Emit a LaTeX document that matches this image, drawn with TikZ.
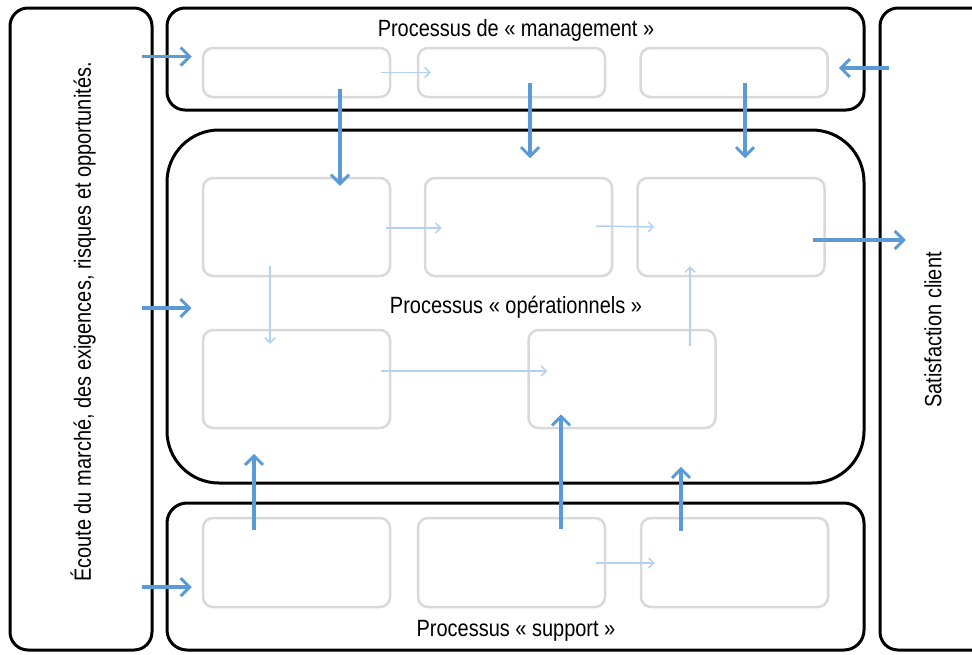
\documentclass[tikz,border=0pt]{standalone}
\usepackage{fontspec}
\setmainfont{Liberation Sans}[FakeStretch=0.85]
\usepackage{xcolor}
\usetikzlibrary{arrows.meta}

\definecolor{darkblue}{HTML}{5B9BD5}
\definecolor{lightblue}{HTML}{B4D2F0}
\definecolor{boxgray}{HTML}{D9D9D9}

\tikzset{
    frame/.style={draw=black, line width=3pt, inner sep=0pt},
    procbox/.style={draw=boxgray, line width=2.5pt, rounded corners=10pt, minimum width=187pt, inner sep=0pt},
    bigarrow/.style={draw=darkblue, line width=3.5pt, -{Straight Barb[length=9pt, width=18pt, line width=3pt]}},
    smallarrow/.style={draw=lightblue, line width=1.5pt, -{Straight Barb[length=5pt, width=10pt, line width=1.5pt]}},
    label/.style={font=\fontsize{23.5}{26}\selectfont, inner sep=0pt}
}

\begin{document}
\begin{tikzpicture}[x=1pt, y=-1pt]
    \useasboundingbox (0, 0) rectangle (972, 654);
    \clip (0, 0) rectangle (972, 654);

    % Outer frames
    \node[frame, rounded corners=18pt, minimum width=142pt, minimum height=642pt] (L) at (81, 329) {}; % market
    \node[frame, rounded corners=18pt, minimum width=160pt, minimum height=642pt] (R) at (960, 329) {}; % customer
    \node[frame, rounded corners=18pt, minimum width=697pt, minimum height=102pt] (M) at (515.5, 59) {}; % management
    \node[frame, rounded corners=52pt, minimum width=697pt, minimum height=353pt] (O) at (515.5, 306.5) {}; % operations
    \node[frame, rounded corners=20pt, minimum width=697pt, minimum height=147pt] (S) at (515.5, 576.5) {}; % support

    % Labels
    \node[label] (mlabel) at (516, 30) {Processus de « management »};
    \node[label] (olabel) at (516, 307) {Processus « opérationnels »};
    \node[label] (slabel) at (516, 631) {Processus « support »};
    \node[label, rotate=90] (llabel) at (83, 322) {Écoute du marché, des exigences, risques et opportunités.};
    \node[label, rotate=90] (rlabel) at (933, 330) {Satisfaction client};

    % Management processes
    \node[procbox, minimum height=49pt] (m1) at (296.5, 72.5) {};
    \node[procbox, minimum height=49pt] (m2) at (511.5, 72.5) {};
    \node[procbox, minimum height=49pt] (m3) at (734, 72.5) {};

    % Operational processes
    \node[procbox, minimum height=98pt] (A) at (296.5, 227) {};
    \node[procbox, minimum height=98pt] (B) at (518.5, 227) {};
    \node[procbox, minimum height=98pt] (C) at (731, 227) {};
    \node[procbox, minimum height=98pt] (D) at (296.5, 379) {};
    \node[procbox, minimum height=98pt] (E) at (622, 379) {};

    % Support processes
    \node[procbox, minimum height=89pt] (F) at (296.5, 562.5) {};
    \node[procbox, minimum height=89pt] (G) at (511.5, 562.5) {};
    \node[procbox, minimum height=89pt] (H) at (734.5, 562.5) {};

    % Internal flows
    \draw[smallarrow] ([xshift=-10pt]m1.east) -- ([xshift=14pt]m2.west);
    \draw[smallarrow] ([xshift=-5pt,yshift=-1pt]A.east) -- ([xshift=18pt,yshift=-1pt]B.west);
    \draw[smallarrow] ([xshift=-17pt,yshift=1pt]B.east) -- ([xshift=18pt]C.west);
    \draw[smallarrow] ([xshift=-26.5pt,yshift=11pt]A.south) -- ([xshift=-26.5pt,yshift=-15pt]D.north);
    \draw[smallarrow] ([xshift=-10pt,yshift=8pt]D.east) -- ([xshift=20pt,yshift=8pt]E.west);
    \draw[smallarrow] ([xshift=68pt,yshift=-17pt]E.north) -- ([xshift=-41pt,yshift=11pt]C.south);
    \draw[smallarrow] ([xshift=-10pt,yshift=-0.5pt]G.east) -- ([xshift=15pt,yshift=-0.5pt]H.west);

    % Inputs and outputs
    \draw[bigarrow] ([xshift=-60pt,yshift=16pt]m1.west) -- ([xshift=-10pt,yshift=16pt]m1.west);
    \draw[bigarrow] ([xshift=-24pt,yshift=-1.5pt]O.west) -- ([xshift=26pt,yshift=-1.5pt]O.west);
    \draw[bigarrow] ([xshift=-60pt,yshift=-24.5pt]F.west) -- ([xshift=-10pt,yshift=-24.5pt]F.west);
    \draw[bigarrow] ([xshift=60pt,yshift=4.5pt]m3.east) -- ([xshift=10pt,yshift=4.5pt]m3.east);
    \draw[bigarrow] ([xshift=-13pt,yshift=-13pt]C.east) -- ([xshift=80pt,yshift=-13pt]C.east);

    % Management to operations
    \draw[bigarrow] ([xshift=43.5pt,yshift=9pt]m1.south) -- ([xshift=43.5pt,yshift=-9pt]A.north);
    \draw[bigarrow] ([xshift=18.5pt,yshift=15pt]m2.south) -- ([xshift=18.5pt,yshift=-60pt]m2.south);
    \draw[bigarrow] ([xshift=11pt,yshift=15pt]m3.south) -- ([xshift=11pt,yshift=-60pt]m3.south);

    % Support to operations
    \draw[bigarrow] ([xshift=-42.5pt,yshift=-13pt]F.north) -- ([xshift=-42.5pt,yshift=63pt]F.north);
    \draw[bigarrow] ([xshift=49.5pt,yshift=-12pt]G.north) -- ([xshift=-61pt,yshift=15pt]E.south);
    \draw[bigarrow] ([xshift=-53.5pt,yshift=-14pt]H.north) -- ([xshift=-53.5pt,yshift=50pt]H.north);
\end{tikzpicture}
\end{document}
